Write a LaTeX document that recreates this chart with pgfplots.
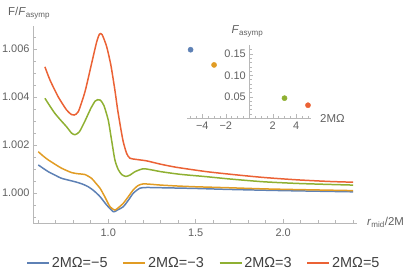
\documentclass[border=0pt]{standalone}
\usepackage{fontspec}
\setmainfont{Liberation Sans}
\usepackage{pgfplots}
\pgfplotsset{compat=1.18}
\definecolor{c1}{rgb}{0.368417,0.506779,0.709798}
\definecolor{c2}{rgb}{0.880722,0.611041,0.142051}
\definecolor{c3}{rgb}{0.560181,0.691569,0.194885}
\definecolor{c4}{rgb}{0.922526,0.385626,0.209179}
\definecolor{axgray}{gray}{0.72}
\definecolor{txtgray}{gray}{0.38}
\begin{document}
\begin{tikzpicture}
\useasboundingbox (0,0) rectangle (411bp,278bp);
\begin{axis}[
  at={(33bp,55bp)}, anchor=south west,
  scale only axis, width=323.7bp, height=197bp,
  xmin=0.57, xmax=2.42, ymin=0.99875, ymax=1.00696,
  axis lines=left,
  axis line style={-, draw=axgray, line width=0.6pt},
  xtick={1,1.5,2}, xticklabels={1.0,1.5,2.0},
  ytick={1,1.002,1.004,1.006}, yticklabels={1.000,1.002,1.004,1.006},
  minor xtick={0.6,0.7,0.8,0.9,1.1,1.2,1.3,1.4,1.6,1.7,1.8,1.9,2.1,2.2,2.3,2.4},
  minor ytick={0.999,0.9995,1.0005,1.001,1.0015,1.0025,1.003,1.0035,1.0045,1.005,1.0055,1.0065},
  tick style={draw=axgray, line width=0.5pt},
  major tick length=4bp, minor tick length=2.5bp,
  tick align=inside,
  ticklabel style={font=\fontsize{11}{13}\selectfont, text=txtgray},
  xticklabel style={yshift=-2bp},
  legend style={at={(0.528,-0.203)}, anchor=center, draw=none, fill=none,
    legend columns=4, font=\fontsize{14.5}{16}\selectfont, text=black!75,
    /tikz/every even column/.append style={column sep=13bp}},
  legend image code/.code={\draw[#1] (0bp,0bp) -- (22bp,0bp);},
  every axis plot/.append style={line width=1.5pt},
  clip=false,
]
\addplot[c1, smooth, tension=0.4] coordinates {
(0.600,1.00117) (0.657,1.00089) (0.700,1.00073) (0.734,1.00061) (0.810,1.00047)
(0.850,1.00038) (0.886,1.00026) (0.920,1.00008) (0.953,0.99985) (0.991,0.99950)
(1.029,0.99922) (1.050,0.99928) (1.086,0.99943) (1.115,0.99970) (1.143,0.99999)
(1.181,1.00020) (1.220,1.00023) (1.300,1.00022) (1.500,1.00019) (1.686,1.00015)
(2.000,1.00010) (2.400,1.00005)};
\addlegendentry{2MΩ=−5}
\addplot[c2, smooth, tension=0.4] coordinates {
(0.600,1.00172) (0.630,1.00153) (0.657,1.00138) (0.700,1.00118) (0.734,1.00103)
(0.791,1.00085) (0.830,1.00080) (0.867,1.00077) (0.905,1.00061) (0.930,1.00040)
(0.953,1.00020) (0.980,0.99985) (1.010,0.99943) (1.038,0.99929) (1.060,0.99940)
(1.086,0.99957) (1.115,0.99985) (1.143,1.00013) (1.170,1.00031) (1.200,1.00038)
(1.250,1.00036) (1.300,1.00033) (1.400,1.00029) (1.500,1.00026) (1.686,1.00022)
(1.900,1.00017) (2.100,1.00014) (2.400,1.00010)};
\addlegendentry{2MΩ=−3}
\addplot[c3, smooth, tension=0.4] coordinates {
(0.638,1.00395) (0.667,1.00362) (0.695,1.00332) (0.730,1.00302) (0.762,1.00276)
(0.790,1.00250) (0.810,1.00243) (0.835,1.00255) (0.867,1.00300) (0.900,1.00352)
(0.925,1.00383) (0.940,1.00389) (0.955,1.00387) (0.975,1.00365) (1.000,1.00304)
(1.019,1.00221) (1.038,1.00138) (1.057,1.00098) (1.077,1.00077) (1.100,1.00069)
(1.125,1.00075) (1.153,1.00089) (1.200,1.00101) (1.250,1.00096) (1.300,1.00089)
(1.410,1.00078) (1.562,1.00068) (1.686,1.00059) (1.884,1.00047) (2.077,1.00040)
(2.250,1.00036) (2.400,1.00033)};
\addlegendentry{2MΩ=3}
\addplot[c4, smooth, tension=0.4] coordinates {
(0.638,1.00526) (0.667,1.00471) (0.714,1.00401) (0.762,1.00346) (0.790,1.00327) (0.805,1.00325)
(0.829,1.00339) (0.867,1.00422) (0.905,1.00540) (0.934,1.00630) (0.950,1.00662)
(0.965,1.00660) (0.991,1.00610) (1.015,1.00533) (1.038,1.00429) (1.054,1.00346)
(1.073,1.00263) (1.086,1.00213) (1.105,1.00165) (1.124,1.00145) (1.160,1.00140)
(1.219,1.00134) (1.300,1.00120) (1.391,1.00107) (1.562,1.00089) (1.713,1.00077)
(1.884,1.00065) (2.077,1.00055) (2.267,1.00048) (2.400,1.00045)};
\addlegendentry{2MΩ=5}
\end{axis}
\begin{axis}[
  at={(187.3bp,159.7bp)}, anchor=south west,
  scale only axis, width=123.4bp, height=73.3bp,
  xmin=-5.28, xmax=5.23, ymin=0, ymax=0.171,
  axis lines=middle,
  axis line style={-, draw=axgray, line width=0.6pt},
  xtick={-4,-2,2,4}, xticklabels={−4,−2,2,4},
  ytick={0.05,0.1,0.15}, yticklabels={0.05,0.10,0.15},
  minor xtick={-5,-4.5,-3.5,-3,-2.5,-1.5,-1,-0.5,0.5,1,1.5,2.5,3,3.5,4.5,5},
  minor ytick={0.01,0.02,0.03,0.04,0.06,0.07,0.08,0.09,0.11,0.12,0.13,0.14,0.16},
  tick style={draw=axgray, line width=0.5pt},
  major tick length=4bp, minor tick length=2.5bp,
  tick align=inside,
  ticklabel style={font=\fontsize{11}{13}\selectfont, text=txtgray},
  clip=false,
]
\addplot[only marks, mark=*, mark size=2.6bp, c1] coordinates {(-5,0.160)};
\addplot[only marks, mark=*, mark size=2.6bp, c2] coordinates {(-3,0.1245)};
\addplot[only marks, mark=*, mark size=2.6bp, c3] coordinates {(3,0.047)};
\addplot[only marks, mark=*, mark size=2.6bp, c4] coordinates {(5,0.0305)};
\end{axis}
\node[anchor=base west, inner sep=0, font=\fontsize{11.5}{13}\selectfont, text=txtgray] at (8bp,262bp) {F/\textit{F}\textsubscript{asymp}};
\node[anchor=base west, inner sep=0, font=\fontsize{11.5}{13}\selectfont, text=txtgray] at (231.5bp,244.5bp) {\textit{F}\textsubscript{asymp}};
\node[anchor=base west, inner sep=0, font=\fontsize{11.5}{13}\selectfont, text=txtgray] at (320bp,155.5bp) {2MΩ};
\node[anchor=base west, inner sep=0, font=\fontsize{11.5}{13}\selectfont, text=txtgray] at (367bp,52bp) {\textit{r}\textsubscript{mid}/2M};
\end{tikzpicture}
\end{document}
